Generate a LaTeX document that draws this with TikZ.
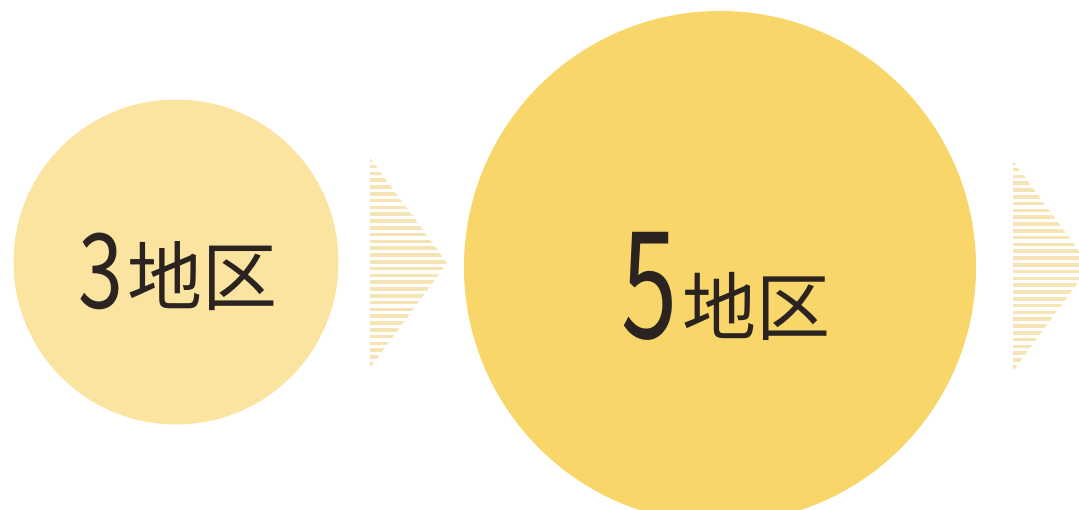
\documentclass[tikz,border=0pt]{standalone}
\usepackage{fontspec}
\newfontfamily\cjk{Noto Sans CJK JP}
\definecolor{circA}{HTML}{FAE4A0}
\definecolor{circB}{HTML}{F9D66A}
\definecolor{stripe}{HTML}{F6E4B4}
\definecolor{ink}{HTML}{2A2320}
\tikzset{
  bubble/.style={circle, inner sep=0pt, draw=none},
  label3/.style={text=ink, inner sep=0pt, anchor=center},
}
\newcommand{\stripetri}[2]{%
  \begin{scope}
    \clip (#1,#2) -- (#1,#2+210) -- (#1+77,#2+105) -- cycle;
    \foreach \k in {0,...,31} {
      \fill[stripe] (#1-2,#2+\k*6.8) rectangle (#1+80,#2+\k*6.8+3.6);
    }
  \end{scope}}
\begin{document}
\begin{tikzpicture}[x=1pt,y=-1pt]
  \useasboundingbox (0,0) rectangle (1079,509);
  \clip (0,0) rectangle (1079,509);
  \fill[white] (0,0) rectangle (1079,509);
  \node[bubble, fill=circA, minimum size=325pt] (c1) at (176,262) {};
  \node[bubble, fill=circB, minimum size=512pt] (c2) at (720,267) {};
  \stripetri{370}{158}
  \stripetri{1013}{161}
  \node[label3] (t1) at (178,272) {\cjk\fontsize{104}{104}\selectfont\scalebox{0.78}[1]{3}\hspace{3pt}\raisebox{4pt}{\fontsize{75}{75}\selectfont 地区}};
  \node[label3] (t2) at (726,286) {\cjk\fontsize{149}{149}\selectfont\scalebox{0.68}[1]{5}\hspace{4pt}\raisebox{4pt}{\fontsize{74}{74}\selectfont 地区}};
\end{tikzpicture}
\end{document}
